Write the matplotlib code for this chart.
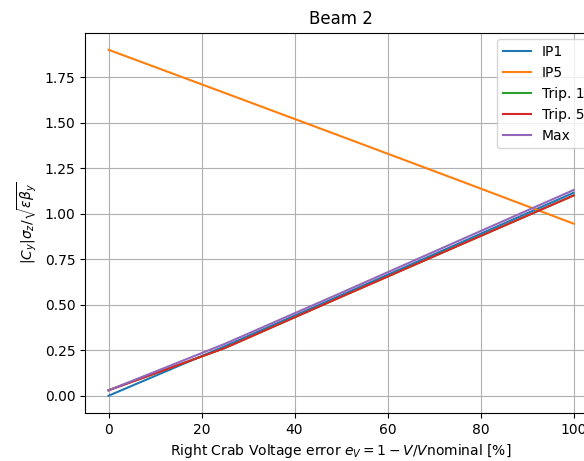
import matplotlib
matplotlib.use("Agg")
import matplotlib.pyplot as plt

x = [0, 25, 50, 75, 100]
ip1 = [0.0, 0.272, 0.552, 0.833, 1.115]
ip5 = [1.90, 1.663, 1.425, 1.186, 0.945]
trip1 = [0.03, 0.262, 0.543, 0.822, 1.10]
trip5 = [0.03, 0.262, 0.543, 0.822, 1.10]
maxv = [0.03, 0.285, 0.565, 0.848, 1.13]

fig = plt.figure(figsize=(5.84, 4.61), dpi=100)
ax = fig.add_axes([0.146, 0.104, 1.022 - 0.146, 0.9295 - 0.104])

ax.plot(x, ip1, label="IP1")
ax.plot(x, ip5, label="IP5")
ax.plot(x, trip1, label="Trip. 1")
ax.plot(x, trip5, label="Trip. 5")
ax.plot(x, maxv, label="Max")

ax.grid(True)
ax.set_title("Beam 2")
ax.set_xlabel(r"Right Crab Voltage error $e_V = 1 - V/V$nominal [%]")
ax.set_ylabel(r"$|C_y|\sigma_z/\sqrt{\epsilon\beta_y}$")
ax.legend(loc="upper right")

fig.savefig("out.png", dpi=100)
